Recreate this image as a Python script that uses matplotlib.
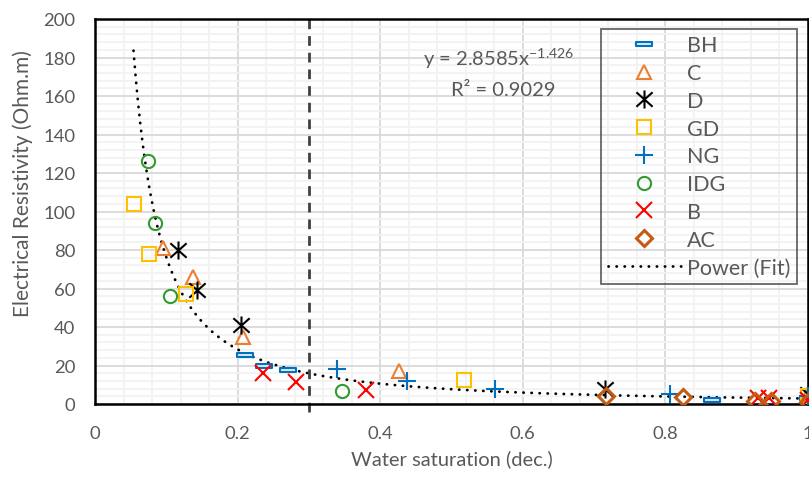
import numpy as np
import matplotlib.pyplot as plt
from matplotlib.path import Path

plt.rcParams['font.family'] = ['Lato', 'DejaVu Sans']

# data
bh_x = [0.210, 0.237, 0.270, 0.866, 1.0]
bh_y = [25.5, 19.5, 17.5, 2.0, 3.0]
c_x = [0.096, 0.138, 0.208, 0.427, 1.0]
c_y = [81, 66, 35, 17, 5]
d_x = [0.116, 0.143, 0.205, 0.715, 1.0]
d_y = [80, 59, 41, 8, 5]
gd_x = [0.054, 0.076, 0.127, 0.518, 1.0]
gd_y = [104, 78, 57, 12.5, 4]
ng_x = [0.340, 0.437, 0.561, 0.806, 1.0]
ng_y = [18, 12, 8, 5.3, 4]
idg_x = [0.074, 0.084, 0.105, 0.346]
idg_y = [126, 94, 56, 6.5]
b_x = [0.235, 0.282, 0.380, 0.930, 0.945, 1.0]
b_y = [16, 11.6, 7.5, 3, 3, 2]
ac_x = [0.716, 0.824, 0.925, 0.948, 1.0]
ac_y = [4, 3.5, 1.8, 1.5, 1]

# trendline from the chart equation
fit_a = 2.8585
fit_b = -1.426
fit_r2 = 0.9029
fit_xmin = 0.054

gray = '#595959'

# custom markers (excel dash and star)
dash_marker = Path([(-1, -0.3), (1, -0.3), (1, 0.3), (-1, 0.3), (-1, -0.3)],
                   [Path.MOVETO, Path.LINETO, Path.LINETO, Path.LINETO, Path.CLOSEPOLY])
star_marker = Path([(0, -1), (0, 1), (-0.9, -0.8), (0.9, 0.8), (-0.9, 0.8), (0.9, -0.8)],
                   [Path.MOVETO, Path.LINETO] * 3)

fig = plt.figure(figsize=(8.09, 4.81), dpi=100)
ax = fig.add_axes([95 / 809, 1 - 405 / 481, 713 / 809, 385 / 481])

ax.plot(bh_x, bh_y, linestyle='none', marker=dash_marker, ms=11, mfc='#DDEBF7', mec='#0070C0', mew=1.5, label='BH', zorder=3)
ax.plot(c_x, c_y, linestyle='none', marker='^', ms=10, mfc='none', mec='#ED7D31', mew=1.5, label='C', zorder=3)
ax.plot(d_x, d_y, linestyle='none', marker=star_marker, ms=13, mfc='none', mec='black', mew=1.5, label='D', zorder=3)
ax.plot(gd_x, gd_y, linestyle='none', marker='s', ms=9.5, mfc='none', mec='#FFC000', mew=1.5, label='GD', zorder=3)
ax.plot(ng_x, ng_y, linestyle='none', marker='+', ms=13, mec='#0070C0', mew=1.5, label='NG', zorder=3)
ax.plot(idg_x, idg_y, linestyle='none', marker='o', ms=9.5, mfc='none', mec='#339933', mew=1.5, label='IDG', zorder=3)
ax.plot(b_x, b_y, linestyle='none', marker='x', ms=11, mec='#FF0000', mew=1.5, label='B', zorder=3)
ax.plot(ac_x, ac_y, linestyle='none', marker='D', ms=8, mfc='none', mec='#C55A11', mew=2.2, label='AC', zorder=3)

xf = np.linspace(fit_xmin, 1, 300)
ax.plot(xf, fit_a * xf ** fit_b, color='black', lw=2, linestyle=(0, (0.1, 2.8)),
        dash_capstyle='round', label='Power (Fit)', zorder=2)

ax.plot([0.3, 0.3], [-4, 200], color='#404040', lw=2, linestyle=(0, (3.5, 2.5)), clip_on=False, zorder=2)

ax.set_xlim(0, 1)
ax.set_ylim(0, 200)
ax.set_xticks(np.arange(0, 1.01, 0.2))
ax.set_xticklabels(['0', '0.2', '0.4', '0.6', '0.8', '1'])
ax.set_xticks(np.arange(0, 1.01, 0.04), minor=True)
ax.set_yticks(np.arange(0, 201, 20))
ax.set_yticks(np.arange(0, 201, 4), minor=True)
ax.grid(which='major', color='#D9D9D9', lw=1.3)
ax.grid(which='minor', color='#F2F2F2', lw=1.3)
ax.set_axisbelow(True)
ax.tick_params(which='both', length=0, labelsize=13.3, labelcolor=gray)
ax.tick_params(axis='x', pad=15)
ax.tick_params(axis='y', pad=14)
for s in ax.spines.values():
    s.set_color('black')
    s.set_linewidth(1.8)

ax.set_xlabel('Water saturation (dec.)', fontsize=14.5, color=gray, labelpad=6)
ax.set_ylabel('Electrical Resistivity (Ohm.m)', fontsize=15, color=gray)
ax.yaxis.set_label_coords((33 - 95) / 713, 0.575)

ax.text(0.566, 0.901, r'y = 2.8585x$^{\mathregular{-1.426}}$', transform=ax.transAxes,
        ha='center', va='center', fontsize=14.5, color=gray)
ax.text(0.572, 0.818, 'R² = ' + str(fit_r2), transform=ax.transAxes,
        ha='center', va='center', fontsize=14.5, color=gray)

leg = ax.legend(loc='upper right', bbox_to_anchor=(797 / 809, 1 - 30 / 481), bbox_transform=fig.transFigure,
                fontsize=15.5, labelcolor=gray, frameon=True, fancybox=False, facecolor='none',
                edgecolor='#404040', handlelength=3.4, handletextpad=0.3, labelspacing=0.36,
                borderpad=0.3, borderaxespad=0)
leg.get_frame().set_linewidth(1.3)

fig.savefig('out.png', dpi=100)
